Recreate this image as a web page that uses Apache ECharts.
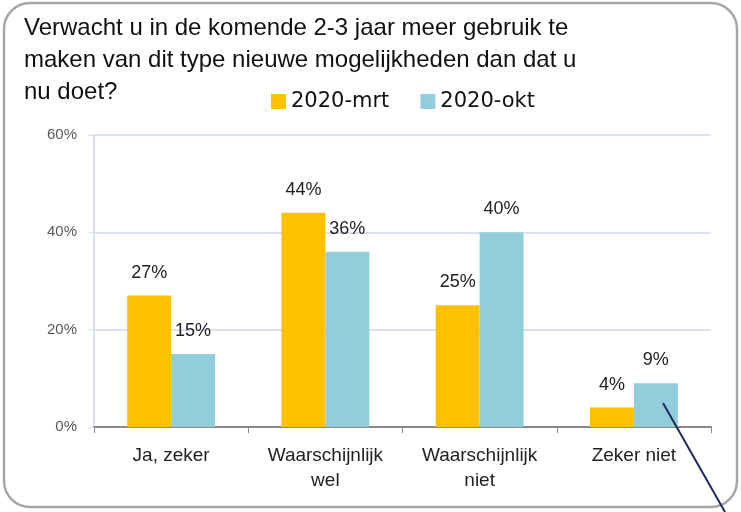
<!DOCTYPE html>
<html><head><meta charset="utf-8">
<script src="https://cdn.jsdelivr.net/npm/echarts@6/dist/echarts.min.js"></script>
<style>html,body{margin:0;padding:0;background:#fff}#c{width:741px;height:512px}</style>
</head><body><div id="c"></div>
<script>
const categories = ['Ja, zeker', 'Waarschijnlijk\nwel', 'Waarschijnlijk\nniet', 'Zeker niet'];
const seriesNames = ['2020-mrt', '2020-okt'];
const mrt = [27, 44, 25, 4];
const okt = [15, 36, 40, 9];
const yTicks = [0, 20, 40, 60];
const titleText = 'Verwacht u in de komende 2-3 jaar meer gebruik te\nmaken van dit type nieuwe mogelijkheden dan dat u\nnu doet?';

const chart = echarts.init(document.getElementById('c'));
const font = 'Liberation Sans, Arial, sans-serif';
const lbl = {show: true, position: 'top', distance: 14, formatter: p => p.value + '%', fontSize: 18, color: '#222', fontFamily: font};
chart.setOption({
  animation: false,
  title: {text: titleText, left: 19, top: 7, textStyle: {fontSize: 24, fontWeight: 'normal', color: '#111', lineHeight: 32, fontFamily: font}},
  legend: {data: seriesNames, left: 266, top: 86, itemWidth: 15, itemHeight: 15, itemGap: 31, icon: 'rect',
    textStyle: {fontSize: 21, color: '#111', fontFamily: 'DejaVu Sans, sans-serif'}},
  grid: {left: 94, right: 30, top: 135, bottom: 85, containLabel: false},
  xAxis: {type: 'category', data: categories,
    axisLine: {lineStyle: {color: '#888', width: 2}},
    axisTick: {show: true, interval: 0, length: 6, lineStyle: {color: '#888'}},
    axisLabel: {fontSize: 19, color: '#222', lineHeight: 25, margin: 16, interval: 0, fontFamily: font}},
  yAxis: {type: 'value', min: yTicks[0], max: yTicks[yTicks.length - 1], interval: 20,
    axisLine: {show: true, lineStyle: {color: '#d9e1f2', width: 2}},
    axisTick: {show: true, length: 6, lineStyle: {color: '#d9e1f2'}},
    splitLine: {lineStyle: {color: '#d9e1f2', width: 2}},
    axisLabel: {formatter: '{value}%', fontSize: 15, color: '#595959', margin: 17, fontFamily: font}},
  series: [
    {name: seriesNames[0], type: 'bar', data: mrt, barGap: '0%', barCategoryGap: '43%', itemStyle: {color: '#ffc000'}, label: lbl},
    {name: seriesNames[1], type: 'bar', data: okt, itemStyle: {color: '#92cddc'}, label: lbl}
  ],
  graphic: [
    {type: 'rect', shape: {x: 4, y: 3, width: 733, height: 504, r: 26}, style: {fill: 'none', stroke: '#a6a6a6', lineWidth: 2.5}, z: -1},
    {type: 'line', shape: {x1: 663, y1: 403, x2: 725, y2: 512}, style: {stroke: '#1f2a5c', lineWidth: 2}, z: 10}
  ]
});
</script></body></html>
